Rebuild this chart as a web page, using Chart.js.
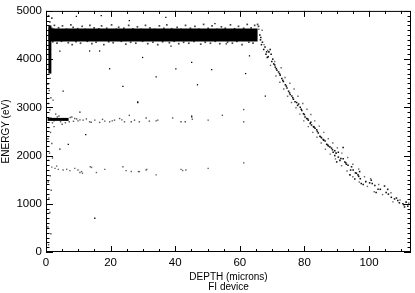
<!DOCTYPE html>
<html><head><meta charset="utf-8">
<script src="https://cdn.jsdelivr.net/npm/chart.js@4"></script>
<style>html,body{margin:0;padding:0;background:#fff;}#wrap{width:415px;height:293px;}</style>
</head><body><div id="wrap"><canvas id="c" width="415" height="293"></canvas></div>
<script>
// ---- data (depth in microns, energy in eV) ----
const xTicks = [0, 20, 40, 60, 80, 100];
const yTicks = [0, 1000, 2000, 3000, 4000, 5000];

// dense plateau band core and the vertical smear at the surface
const bandCore = [[0.8, 4500], [65.5, 4500]];
const surfaceCore = [[1.2, 3700], [1.2, 4700]];
const line2750Core = [[0.5, 2750], [7, 2750]];

const bandFringe = [[1.8,4640],[2.6,4700],[3.9,4650],[5.1,4690],[6.3,4620],[7.7,4710],[8.4,4660],[9.8,4630],[11.2,4680],[12.1,4620],[13.6,4700],[14.9,4650],[16.4,4630],[17.2,4690],[18.8,4640],[20.3,4710],[21.7,4620],[22.5,4660],[24.1,4640],[25.6,4700],[26.9,4630],[28.3,4670],[29.4,4620],[30.8,4700],[32.2,4650],[33.7,4620],[35.1,4690],[36.5,4640],[37.4,4710],[38.9,4630],[40.6,4660],[41.8,4620],[43.2,4700],[44.7,4640],[46.1,4680],[47.3,4620],[48.8,4720],[50.2,4640],[51.4,4690],[52.9,4620],[54.3,4670],[55.5,4640],[57.1,4710],[58.4,4630],[59.6,4680],[61.2,4640],[62.3,4720],[63.5,4650],[64.6,4700],[65.5,4720],[65.8,4680],
 [2.1,4360],[3.4,4330],[4.8,4370],[6.9,4340],[8.1,4300],[9.3,4360],[10.7,4330],[12.8,4370],[14.2,4320],[15.5,4350],[17.9,4300],[19.4,4360],[20.8,4340],[23.3,4370],[24.7,4310],[26.2,4350],[27.8,4330],[29.9,4370],[31.5,4320],[33.1,4350],[34.6,4300],[36.1,4360],[38.2,4340],[39.7,4370],[41.1,4320],[42.6,4350],[44.2,4330],[45.8,4370],[47.9,4310],[49.3,4350],[50.9,4330],[52.4,4370],[53.8,4320],[56.2,4350],[57.7,4330],[59.1,4370],[60.7,4300],[62.8,4350],[64.1,4330],
 [1.2,4770],[1.8,4850],[0.8,4900],[2.3,4620]];

const scattered = [[4.3,4168],[13.5,4168],[16.6,4168],[19.7,3800],[23.8,3434],[5.3,3334],[28.4,3100],[34.1,3634],[9.4,4888],[17.1,4900],[25.8,4800],[10.5,2900],[37.1,4868],[52.3,4734],[45.1,3934],[51.3,3780],[40.2,3800],[46.9,3468],[61.8,3700],[67.9,3234],[63,4068],[29.9,4034],[38.7,4268],[55.8,4314],[4.3,2134],[12.3,2434],[6.9,2234],[15.1,700],[45.1,2820],[28.4,3114]];

const line2750 = [[1.5,2780],[2.5,2720],[3.5,2800],[4.5,2700],[5.5,2760],[6.5,2730],[7.5,2790],[8.5,2710],[9.5,2760],[10.5,2740],[2,2680],[4,2820],[6,2680],[8,2800],[3,2860],[5,2650],[7.2,2700],[8.9,2770],[9.9,2720],
 [11.5,2734],[13.5,2700],[15.1,2734],[16.6,2688],[18.2,2714],[19.7,2700],[21.2,2734],[22.8,2768],[24.3,2700],[25.8,2834],[27.4,2734],[28.9,2700],[32,2714],[34.6,2734],[26.4,2700],[31,2780],[34.1,2720],[39.2,2780],[41.8,2700],[43.1,2700],[45.1,2800],[45.3,2754],[50.2,2734],[54.6,2834],[61.2,2954],[61.2,2700],[12.5,2760],[14,2690],[17.5,2750],[20.5,2720],[23.5,2740]];

const line1750 = [[2.8,1734],[3.8,1714],[5.3,1700],[6.4,1714],[7.4,1688],[8.9,1734],[9.9,1700],[11,1668],[14.1,1754],[15.6,1648],[18.2,1714],[23.8,1768],[24.8,1688],[26.4,1668],[28.9,1668],[31,1700],[34.1,1600],[41.8,1714],[42.3,1690],[43.3,1700],[50.2,1734],[61.2,1848],[1.8,1760],[3.3,1781],[10.5,1648],[11.3,1634],[13.7,1768],[28.6,1667],[31.2,1714]];

const surfacePts = [[0.8,150],[1.5,380],[0.6,520],[1.2,820],[0.9,1120],[1.6,1280],[0.7,1450],[1.3,1580],[0.8,1900],[1.1,2050],[1.8,2250],[0.6,2350],[1.4,2480],[0.9,2580],[1.2,2950],[0.7,3080],[1.5,3200],[1,3350],[0.6,3480],[1.3,3600],[2.2,3150],[2.5,2600],[2,1950]];

const falloff = [[66.4,4400],[66.7,4300],[67.4,4200],[68.1,4100],[68.5,4034],[69.4,4200],[69.7,4100],[70.2,4000],[70.5,3900],[71,3834],[71.5,3768],[72,3734],[72.5,3668],[73,3600],[73.5,3534],[74.1,3468],[74.6,3400],[75.1,3334],[75.6,3268],[76.1,3234],[76.6,3168],[77.1,3114],[77.6,3100],[78.2,3068],[78.7,3000],[79.2,2934],[79.7,2868],[80.2,2800],[80.7,2768],[81.2,2734],[81.8,2668],[82.2,2634],[82.8,2600],[83.3,2568],[83.8,2534],[84.3,2468],[84.8,2400],[85.3,2368],[85.8,2334],[86.4,2300],[86.9,2234],[87.4,2200],[87.9,2180],[88.4,2154],[89.4,2100],[90.5,2068],[92,2168],
 [88.9,2068],[89.4,2000],[90.5,1968],[91,1900],[92,1934],[92.5,1868],[93,1820],[93.5,1800],[94.6,1768],[95.1,1700],[96.1,1634],[96.6,1600],[96.8,1568],[97.1,1668],[97.6,1420],[98.2,1400],[100.2,1434],[100.7,1488],[101.8,1380],[102.2,1234],[102.8,1300],[104.8,1368],[105.3,1234],[105.8,1300],[106.9,1134],[107.9,1100],[108.9,1068],[109.4,1020],[110.5,1000],[111,934],[111.5,1034],[94.1,1600],[95.6,1514],[90,1868],
 [66.2,4500],[66.5,4450],[67,4350],[67.8,4250],[68.3,4150],[68.8,4050],[69,4150],[69.9,3950],[70.8,3880],[71.3,3800],[72.3,3700],[73.3,3560],[74.4,3440],[75.4,3300],[76.4,3200],[77.9,3040],[79,2960],[80,2850],[81,2760],[82,2690],[83,2590],[84,2500],[85,2390],[86,2320],[87.2,2220],[88.7,2120],[89.8,2050],[91.3,1940],[92.8,1850],[94.3,1700],[95.8,1640],[97.3,1520],[99,1460],[101,1420],[103.5,1300],[106,1200],[108.5,1120],[110.8,980],[112,950]];

const falloffSpread = [[67.5,4300],[68.6,4180],[70.8,3950],[69.5,3870],[72.8,3820],[71.2,3650],[74,3620],[72.4,3520],[75.5,3500],[73.6,3380],[76.8,3380],[74.8,3230],[78,3230],[76,3100],[79.5,3080],[77.4,2990],[80.8,2960],[78.6,2860],[82,2850],[79.8,2720],[83.2,2720],[81.2,2600],[84.6,2610],[82.6,2480],[86,2480],[83.9,2380],[87.4,2350],[85.2,2260],[88.8,2260],[86.5,2130],[90.2,2160],[88,2030],[91.6,2050],[89.6,1930],[93.4,1960],[91.5,1790],[95,1820],[93.2,1680],[96.8,1720],[95,1560],[98.6,1560],[97,1450],[100.5,1520],[99.5,1360],[103,1400],[101.6,1250],[104.2,1190],[106.8,1230],[107.4,1040],[109.6,1080],[112.3,1010],[65.9,4620],[66.9,4600]];

const toXY = arr => arr.map(p => ({x: p[0], y: p[1]}));

const boxTicks = {
  id: 'boxTicks',
  afterDraw(chart) {
    const {ctx, chartArea: a, scales: {x, y}} = chart;
    ctx.save();
    ctx.strokeStyle = '#000';
    ctx.lineWidth = 1;
    ctx.strokeRect(a.left + 0.5, a.top + 0.5, a.right - a.left - 1, a.bottom - a.top - 1);
    ctx.beginPath();
    for (let v = x.min; v <= x.max; v += 5) {
      const px = Math.round(x.getPixelForValue(v)) + 0.5;
      const L = v % 20 === 0 ? 6 : 3;
      ctx.moveTo(px, a.bottom); ctx.lineTo(px, a.bottom - L);
      ctx.moveTo(px, a.top); ctx.lineTo(px, a.top + L);
    }
    for (let v = y.min; v <= y.max; v += 100) {
      const py = Math.round(y.getPixelForValue(v)) + 0.5;
      const L = v % 1000 === 0 ? 7 : 3.5;
      ctx.moveTo(a.left, py); ctx.lineTo(a.left + L, py);
      ctx.moveTo(a.right, py); ctx.lineTo(a.right - L, py);
    }
    ctx.stroke();
    ctx.restore();
  }
};

const lineDs = (arr, w) => ({data: toXY(arr), showLine: true, pointRadius: 0, borderWidth: w, borderColor: '#000', borderCapStyle: 'butt'});
const ptDs = (arr, col, r) => ({data: toXY(arr), pointStyle: 'rect', pointRadius: r, pointBorderWidth: 0, backgroundColor: col, borderColor: col, pointBackgroundColor: col});

Chart.defaults.color = '#000';
Chart.defaults.font.family = "'Liberation Sans', Arial, sans-serif";

new Chart(document.getElementById('c'), {
  type: 'scatter',
  data: {datasets: [
    lineDs(bandCore, 13),
    lineDs(surfaceCore, 3),
    lineDs(line2750Core, 3),
    ptDs(bandFringe, '#444', 1.2),
    ptDs(scattered, '#000', 0.9),
    ptDs(line2750, '#555', 1),
    ptDs(line1750, '#666', 1),
    ptDs(surfacePts, '#555', 1),
    ptDs(falloff, '#111', 1.1),
    ptDs(falloffSpread, '#666', 1)
  ]},
  options: {
    responsive: false, animation: false, devicePixelRatio: 1,
    layout: {padding: {top: 2, right: 1, left: 0, bottom: 0}},
    plugins: {legend: {display: false}, tooltip: {enabled: false}},
    scales: {
      x: {
        type: 'linear', min: 0, max: 113,
        grid: {display: false, drawTicks: false}, border: {display: false},
        ticks: {stepSize: 20, padding: 4, font: {size: 11.5}, color: '#000', maxRotation: 0, callback: v => String(v)},
        afterBuildTicks(s) { s.ticks = xTicks.map(v => ({value: v})); },
        afterFit(s) { s.height = 41; },
        title: {display: true, text: ['DEPTH (microns)', 'FI device'], font: {size: 10, lineHeight: 1}, padding: {top: 0, bottom: 1}, color: '#000'}
      },
      y: {
        type: 'linear', min: 0, max: 5000,
        grid: {display: false, drawTicks: false}, border: {display: false},
        ticks: {stepSize: 1000, padding: 4, font: {size: 11.5}, color: '#000', callback: v => String(v)},
        afterBuildTicks(s) { s.ticks = yTicks.map(v => ({value: v})); },
        afterFit(s) { s.width = 46; },
        title: {display: true, text: 'ENERGY (eV)', font: {size: 10, lineHeight: 1.2}, padding: {top: 0, bottom: 0}, color: '#000'}
      }
    }
  },
  plugins: [boxTicks]
});
</script></body></html>
